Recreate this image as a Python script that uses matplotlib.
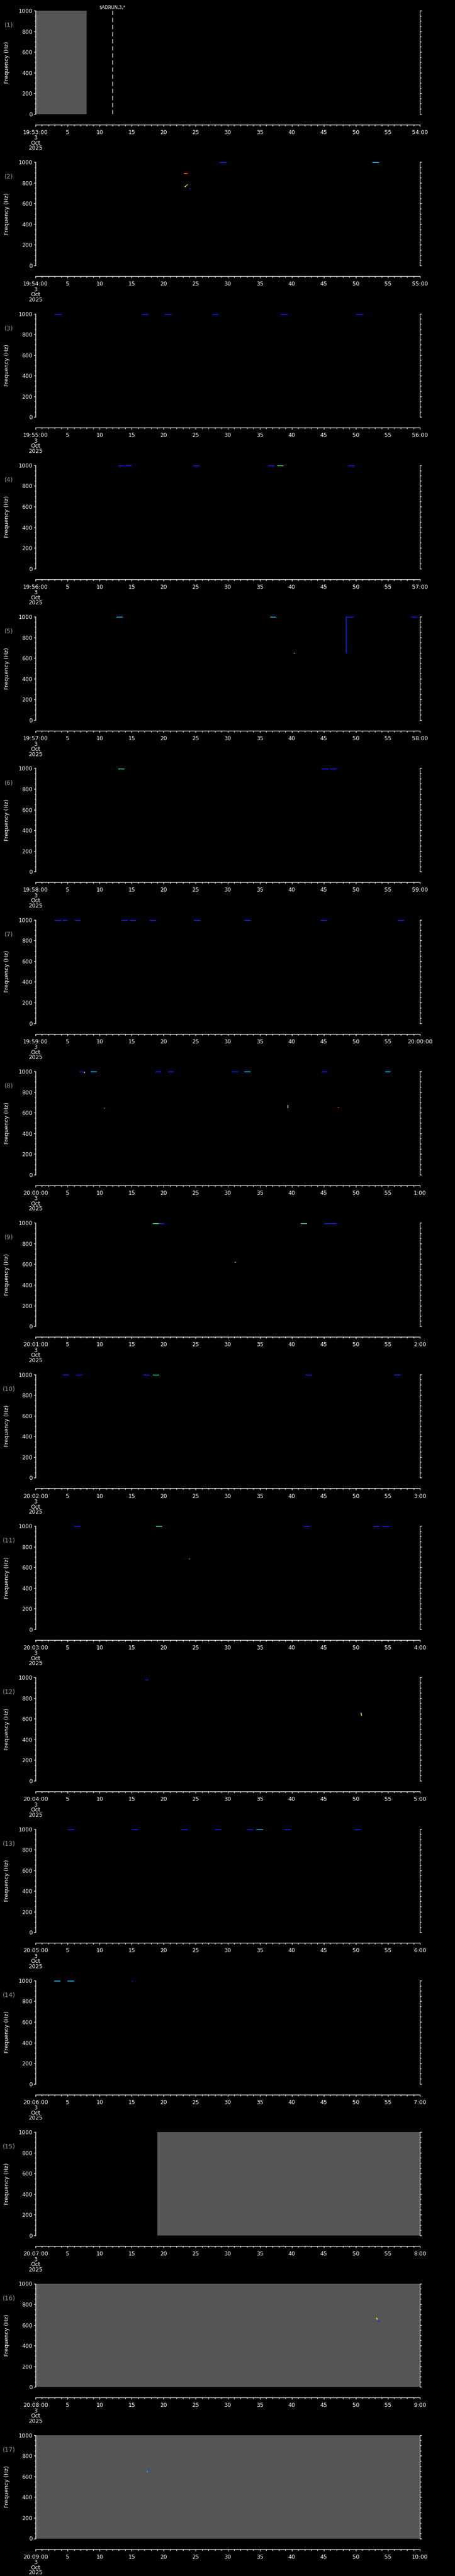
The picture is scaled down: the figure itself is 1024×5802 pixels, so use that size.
import matplotlib
matplotlib.use('Agg')
import matplotlib.pyplot as plt
from matplotlib.ticker import MultipleLocator, FixedLocator

# start / end labels of the 17 one-minute panels
start_labels = ['19:53:00', '19:54:00', '19:55:00', '19:56:00', '19:57:00', '19:58:00',
                '19:59:00', '20:00:00', '20:01:00', '20:02:00', '20:03:00', '20:04:00',
                '20:05:00', '20:06:00', '20:07:00', '20:08:00', '20:09:00']
end_labels = ['54:00', '55:00', '56:00', '57:00', '58:00', '59:00', '20:00:00',
              '1:00', '2:00', '3:00', '4:00', '5:00', '6:00', '7:00', '8:00', '9:00', '10:00']
date_lines = ['3', 'Oct', '2025']

# no-data (gray) spans, seconds: (panel, t0, t1)
gaps = [(1, 0, 8), (15, 19, 60), (16, 0, 60), (17, 0, 60)]

# marker line in panel 1
event_t = 12
event_text = r'\$ADRUN,3,*'

# spectrogram traces: (panel, t0, t1, f0, f1, colour)
B, C, Y, O, R, G = '#1020ff', '#00c0ff', '#ffff30', '#ff9000', '#ff2020', '#30e070'
traces = [
    (2, 23.2, 23.6, 890, 890, O), (2, 23.5, 23.8, 895, 885, R),
    (2, 23.3, 23.6, 760, 775, Y), (2, 23.6, 23.8, 780, 780, O),
    (2, 24.0, 24.2, 745, 745, B), (2, 28.7, 29.8, 995, 995, B),
    (2, 52.6, 53.6, 995, 995, C),
    (3, 3.0, 4.0, 995, 995, B), (3, 16.6, 17.6, 995, 995, B), (3, 20.2, 21.2, 995, 995, B),
    (3, 27.6, 28.6, 995, 995, B), (3, 38.3, 39.3, 995, 995, B), (3, 50.1, 51.1, 995, 995, B),
    (4, 12.9, 13.9, 995, 995, B), (4, 14.0, 15.0, 995, 995, B), (4, 24.6, 25.6, 995, 995, B),
    (4, 36.3, 37.3, 995, 995, B), (4, 37.7, 38.7, 995, 995, G), (4, 48.8, 49.8, 995, 995, B),
    (5, 12.6, 13.6, 995, 995, C), (5, 36.6, 37.5, 995, 995, C), (5, 40.3, 40.5, 648, 648, G),
    (5, 48.5, 48.5, 648, 995, B), (5, 48.5, 49.6, 995, 995, B), (5, 58.6, 59.6, 995, 995, B),
    (6, 12.9, 13.9, 995, 995, G), (6, 44.7, 45.7, 995, 995, B), (6, 46.0, 47.0, 995, 995, B),
    (7, 3.0, 4.0, 995, 995, B), (7, 4.2, 5.0, 995, 995, B), (7, 6.2, 7.0, 995, 995, B),
    (7, 13.4, 14.4, 995, 995, B), (7, 14.7, 15.7, 995, 995, B), (7, 17.8, 18.8, 995, 995, B),
    (7, 24.7, 25.7, 995, 995, B), (7, 32.6, 33.6, 995, 995, B), (7, 44.5, 45.5, 995, 995, B),
    (7, 56.5, 57.5, 995, 995, B),
    (8, 6.9, 7.6, 995, 995, B), (8, 7.6, 7.6, 995, 985, Y), (8, 8.6, 9.6, 995, 995, C),
    (8, 10.7, 10.8, 645, 645, C), (8, 18.7, 19.6, 995, 995, B), (8, 20.7, 21.6, 995, 995, B),
    (8, 30.6, 31.6, 995, 995, B), (8, 32.6, 33.6, 995, 995, C), (8, 39.4, 39.4, 675, 642, Y),
    (8, 44.7, 45.6, 995, 995, B), (8, 47.2, 47.4, 652, 652, R), (8, 54.6, 55.4, 995, 995, C),
    (9, 18.3, 19.3, 995, 995, G), (9, 19.3, 20.1, 995, 995, B), (9, 31.1, 31.3, 620, 620, C),
    (9, 41.4, 42.4, 995, 995, G), (9, 45.0, 46.0, 995, 995, B), (9, 46.0, 47.0, 995, 995, B),
    (10, 4.2, 5.2, 995, 995, B), (10, 6.3, 7.3, 995, 995, B), (10, 16.8, 17.8, 995, 995, B),
    (10, 18.3, 19.3, 995, 995, G), (10, 42.2, 43.2, 995, 995, B), (10, 56.0, 57.0, 995, 995, B),
    (11, 6.0, 7.0, 995, 995, B), (11, 18.8, 19.8, 995, 995, G), (11, 23.9, 24.1, 680, 680, C),
    (11, 41.9, 42.9, 995, 995, B), (11, 52.7, 53.7, 995, 995, B), (11, 54.2, 55.2, 995, 995, B),
    (12, 17.1, 17.6, 975, 975, B), (12, 50.8, 50.9, 660, 630, Y),
    (13, 5.0, 6.0, 995, 995, B), (13, 15.0, 16.0, 995, 995, B), (13, 22.7, 23.7, 995, 995, B),
    (13, 28.0, 29.0, 995, 995, B), (13, 33.0, 34.0, 995, 995, B), (13, 34.5, 35.5, 995, 995, C),
    (13, 38.8, 39.8, 995, 995, B), (13, 49.8, 50.8, 995, 995, B),
    (14, 2.9, 3.9, 995, 995, C), (14, 5.0, 6.0, 995, 995, C), (14, 15.0, 15.2, 995, 990, B),
    (16, 53.2, 53.4, 670, 650, Y), (16, 53.4, 53.7, 650, 628, B),
    (17, 17.4, 17.5, 640, 660, C), (17, 17.5, 17.7, 660, 660, B),
]

W, H = 1024, 5802
fig = plt.figure(figsize=(W / 100, H / 100), dpi=100, facecolor='black')
plt.rcParams['font.family'] = ['DejaVu Sans']

left, right = 80, 945
top0, step, ph = 24, 341.3, 232.7
fs = 9

for i in range(17):
    p = i + 1
    top = top0 + step * i
    ax = fig.add_axes([left / W, 1 - (top + ph) / H, (right - left) / W, ph / H])
    ax.set_facecolor('black')
    ax.set_xlim(0, 60)
    ax.set_ylim(0, 1000)

    for g in gaps:
        if g[0] == p:
            ax.axvspan(g[1], g[2], color='#555555', lw=0, zorder=0)

    for tr in traces:
        if tr[0] == p:
            ax.plot([tr[1], tr[2]], [tr[3], tr[4]], color=tr[5], lw=1.3, solid_capstyle='butt')

    if p == 1:
        ax.axvline(event_t, color='white', lw=1, ls=(0, (7, 4.5)))
        ax.text(event_t, 1010, event_text, color='white', fontsize=7, ha='center',
                va='bottom', transform=ax.transData)

    # spines
    ax.spines['top'].set_visible(False)
    ax.spines['bottom'].set_position(('outward', 17.3))
    for s in ['bottom', 'left', 'right']:
        ax.spines[s].set_color('white')
        ax.spines[s].set_linewidth(1)

    ax.xaxis.set_major_locator(FixedLocator(list(range(0, 61, 5))))
    ax.xaxis.set_minor_locator(MultipleLocator(1))
    xl = [start_labels[i]] + [str(v) for v in range(5, 60, 5)] + [end_labels[i]]
    ax.set_xticklabels(xl)
    ax.yaxis.set_major_locator(MultipleLocator(200))
    ax.yaxis.set_minor_locator(MultipleLocator(50))
    ax.tick_params(axis='both', which='both', colors='white', direction='out', labelsize=fs)
    ax.tick_params(axis='x', which='major', length=3, width=1, pad=5)
    ax.tick_params(axis='x', which='minor', length=1.8, width=1)
    ax.tick_params(axis='y', which='major', length=3, width=1, pad=2, right=True)
    ax.tick_params(axis='y', which='minor', length=1.8, width=1, right=True)

    # date lines under first tick label
    for k, dl in enumerate(date_lines):
        ax.annotate(dl, xy=(0, 0), xycoords=('data', 'axes fraction'),
                    xytext=(0, -17.3 - 3 - 5 - 9 - 8.3 * k), textcoords='offset points',
                    ha='center', va='top', color='white', fontsize=fs)

    ax.set_ylabel('Frequency (Hz)', color='white', fontsize=fs, labelpad=6)
    ax.yaxis.set_label_coords(-58 / (right - left), 0.5)
    ax.text(-60 / (right - left), 0.86, '(%d)' % p, transform=ax.transAxes,
            color='#999999', fontsize=fs + 1, ha='center', va='center')

fig.savefig('out.png', dpi=100, facecolor='black')
